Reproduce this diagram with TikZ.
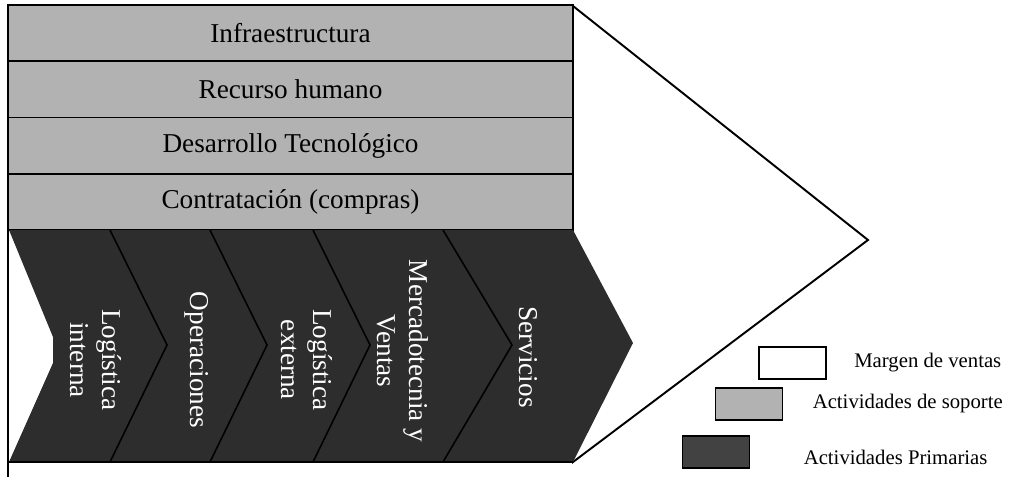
\documentclass[tikz,border=0pt]{standalone}
\usepackage{fontspec}
\setmainfont{Liberation Serif}
\definecolor{supportgray}{RGB}{178, 178, 178}
\definecolor{primarydark}{RGB}{45, 45, 45}
\definecolor{legenddark}{RGB}{66, 66, 66}
\usetikzlibrary{positioning}

\begin{document}
\begin{tikzpicture}[x=0.02cm, y=-0.02cm,
  support/.style={draw, line width=1.1pt, fill=supportgray, minimum width=11.3cm, minimum height=1.125cm, inner sep=0pt, font=\fontsize{15.5}{18}\selectfont},
  primary/.style={text=white, rotate=-90, align=center, inner sep=0pt, font=\fontsize{15.5}{18}\selectfont},
  legendbox/.style={draw, line width=1.1pt, minimum width=1.34cm, minimum height=0.64cm, inner sep=0pt},
  legendtext/.style={anchor=west, inner sep=0pt, font=\fontsize{11.8}{14}\selectfont}]
  \useasboundingbox (0,0) rectangle (1009,480);

  % Margin
  \draw[line width=1.1pt, fill=white] (573,6) -- (868,240) -- (573,462) -- cycle;

  % Support activities
  \node[support] (infra) at (290.5,33.1) {Infraestructura};
  \node[support] (rrhh) at (290.5,89.4) {Recurso humano};
  \node[support] (tecno) at (290.5,145.6) {Desarrollo Tecnológico};
  \node[support] (compras) at (290.5,201.9) {Contratación (compras)};

  % Primary activities
  \fill[primarydark] (9,230) -- (573,230) -- (633,343) -- (573,462) -- (9,462) -- (53,363) -- (53,337) -- cycle;
  \draw[line width=1.1pt] (8,229) -- (8,477);
  \draw[line width=1pt] (8,462) -- (573,462);
  \foreach \xt/\xp in {110/167, 210/267, 313/370, 443/512}
    \draw[line width=0.9pt] (\xt,230) -- (\xp,345) -- (\xt,462);

  \node[primary] (logint) at (96,360) {Logística\\interna};
  \node[primary] (oper) at (197,360) {Operaciones};
  \node[primary] (logext) at (307,360) {Logística\\externa};
  \node[primary] (mkt) at (403,351) {Mercadotecnia y\\Ventas};
  \node[primary] (serv) at (528,357) {Servicios};

  % Legend
  \node[legendbox, fill=white] (kmargin) at (792.5,363) {};
  \node[legendbox, fill=supportgray] (ksupport) at (749,404) {};
  \node[legendbox, fill=legenddark] (kprimary) at (716,452) {};
  \node[legendtext, right=0.54cm of kmargin] (tmargin) {Margen de ventas};
  \node[legendtext, right=0.58cm of ksupport] (tsupport) {Actividades de soporte};
  \node[legendtext, right=1.06cm of kprimary, yshift=-0.1cm] (tprimary) {Actividades Primarias};
\end{tikzpicture}
\end{document}
